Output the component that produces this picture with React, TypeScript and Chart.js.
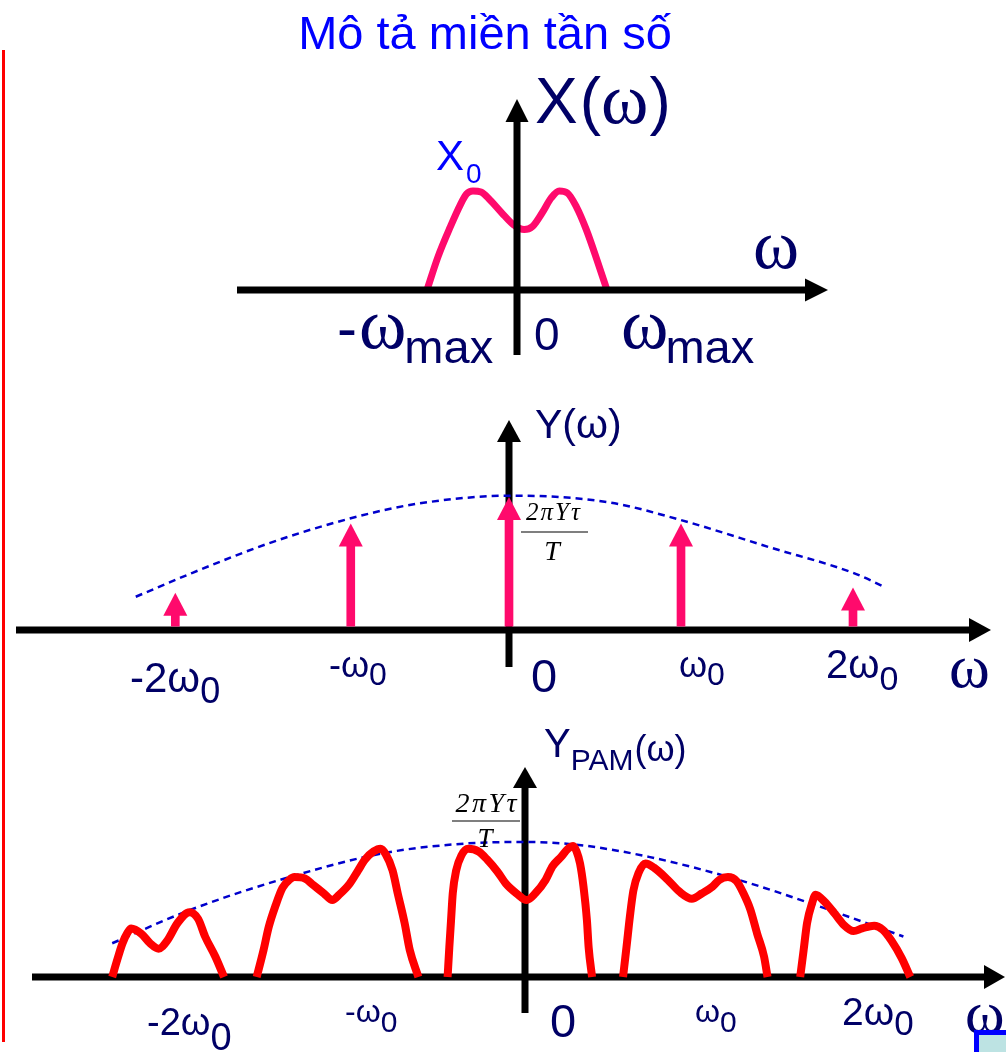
import React, { useEffect, useRef } from "react";
import { Chart, registerables } from "chart.js";

Chart.register(...registerables);

const W = 1006;
const H = 1052;

// ---------- Panel 1: X(ω), ω in units of ω_max, amplitude in units of X0 ----------
const P1_OMEGA = [-1.0, -0.88, -0.74, -0.63, -0.56, -0.49, -0.4, -0.3, -0.17, -0.04, 0.08, 0.17, 0.28, 0.38, 0.47, 0.56, 0.66, 0.77, 0.89, 1.0];
const P1_X = [0, 0.33, 0.64, 0.86, 0.97, 1.0, 0.99, 0.91, 0.78, 0.66, 0.61, 0.64, 0.78, 0.93, 1.0, 0.98, 0.84, 0.61, 0.3, 0];

// ---------- Panel 2: Y(ω), ω in units of ω0, amplitude in units of 2πYτ/T ----------
const P2_STEM_OMEGA = [-1.94, -0.92, 0, 1.0, 2.0];
const P2_STEM_Y = [0.28, 0.8, 1.0, 0.8, 0.32];
const P2_ENV_OMEGA = [-2.17, -1.84, -1.4, -0.92, -0.53, 0.02, 0.58, 0.99, 1.52, 2.0, 2.19];
const P2_ENV_Y = [0.25, 0.43, 0.65, 0.84, 0.95, 1.01, 0.96, 0.83, 0.62, 0.43, 0.32];

// ---------- Panel 3: Y_PAM(ω), ω in units of ω0, amplitude in units of 2πYτ/T ----------
const P3_SEG_A_OMEGA = [-2.4, -2.37, -2.34, -2.31, -2.29, -2.23, -2.18, -2.13, -2.08, -2.02, -1.95, -1.9, -1.86, -1.8, -1.75];
const P3_SEG_A_Y = [0, 0.13, 0.25, 0.33, 0.36, 0.32, 0.25, 0.21, 0.27, 0.4, 0.48, 0.43, 0.3, 0.15, 0];
const P3_SEG_B_OMEGA = [-1.56, -1.52, -1.49, -1.45, -1.41, -1.37, -1.34, -1.28, -1.23, -1.17, -1.12, -1.08, -1.02, -0.97, -0.93, -0.88, -0.84, -0.81, -0.77, -0.74, -0.7, -0.67, -0.62];
const P3_SEG_B_Y = [0, 0.2, 0.37, 0.53, 0.66, 0.72, 0.74, 0.73, 0.68, 0.62, 0.57, 0.61, 0.69, 0.79, 0.87, 0.93, 0.95, 0.91, 0.79, 0.62, 0.4, 0.2, 0];
const P3_SEG_C_OMEGA = [-0.45, -0.44, -0.43, -0.42, -0.4, -0.37, -0.33, -0.27, -0.22, -0.16, -0.11, -0.05, 0.01, 0.06, 0.12, 0.16, 0.21, 0.25, 0.28, 0.3, 0.32, 0.34, 0.36, 0.37, 0.39];
const P3_SEG_C_Y = [0, 0.22, 0.42, 0.62, 0.79, 0.9, 0.95, 0.93, 0.87, 0.78, 0.69, 0.62, 0.57, 0.62, 0.72, 0.82, 0.89, 0.95, 0.97, 0.93, 0.84, 0.67, 0.42, 0.22, 0];
const P3_SEG_D_OMEGA = [0.57, 0.59, 0.61, 0.63, 0.66, 0.7, 0.75, 0.83, 0.9, 0.97, 1.03, 1.09, 1.13, 1.18, 1.23, 1.27, 1.31, 1.35, 1.39, 1.41];
const P3_SEG_D_Y = [0, 0.22, 0.45, 0.64, 0.77, 0.84, 0.81, 0.72, 0.63, 0.58, 0.62, 0.67, 0.72, 0.74, 0.71, 0.62, 0.5, 0.32, 0.15, 0];
const P3_SEG_E_OMEGA = [1.6, 1.62, 1.64, 1.67, 1.69, 1.74, 1.8, 1.85, 1.91, 1.96, 2.03, 2.08, 2.13, 2.19, 2.24];
const P3_SEG_E_Y = [0, 0.2, 0.4, 0.55, 0.61, 0.56, 0.47, 0.39, 0.34, 0.36, 0.38, 0.35, 0.27, 0.14, 0];
const P3_ENV_OMEGA = [-2.4, -1.94, -1.37, -0.81, -0.33, 0, 0.3, 0.72, 1.24, 1.65, 2.2];
const P3_ENV_Y = [0.25, 0.5, 0.74, 0.92, 0.99, 1.0, 0.98, 0.89, 0.72, 0.55, 0.3];

// ---------- Texts ----------
const TITLE = "Mô tả miền tần số";
const P2_TICKS = [["-2ω", "0"], ["-ω", "0"], ["0", ""], ["ω", "0"], ["2ω", "0"]];
const P3_TICKS = [["-2ω", "0"], ["-ω", "0"], ["0", ""], ["ω", "0"], ["2ω", "0"]];
const FRACTION_NUM = "2πYτ";
const FRACTION_DEN = "T";

// ---------- Styles / layout (pixels) ----------
const NAVY = "#000066";
const BLUE = "#0000ff";
const PINK = "#ff0a6c";
const RED = "#ff0000";
const DASH_BLUE = "#0000cc";
const SANS = '"Liberation Sans", Arial, sans-serif';
const SERIF = '"Liberation Serif", "Times New Roman", serif';

const PANELS = {
  p1: { ox: 517, ux: 90, oy: 290, uy: 99, xFrom: 237, xTip: 828, yBottom: 355, yTip: 99, head: 23, half: 11.5 },
  p2: { ox: 509, ux: 172, oy: 630, uy: 133, xFrom: 16, xTip: 991, yBottom: 667, yTip: 420, head: 22, half: 12 },
  p3: { ox: 525, ux: 172, oy: 977, uy: 135, xFrom: 32, xTip: 1005, yBottom: 1013, yTip: 767, head: 21, half: 12 },
};

function scalesFor(p: any) {
  return {
    x: { type: "linear", display: false, offset: false, bounds: "data", min: -p.ox / p.ux, max: (W - p.ox) / p.ux },
    y: { type: "linear", display: false, offset: false, bounds: "data", min: (p.oy - H) / p.uy, max: p.oy / p.uy },
  };
}

function pts(xs: number[], ys: number[]) {
  return xs.map((x, i) => ({ x, y: ys[i] }));
}

function drawAxes(chart: any, key: "p1" | "p2" | "p3") {
  const p = PANELS[key];
  const n = key.slice(1);
  const xs = chart.scales["x" + n];
  const ys = chart.scales["y" + n];
  const ctx = chart.ctx;
  const y0 = ys.getPixelForValue(0);
  const x0 = xs.getPixelForValue(0);
  const lw = 7;
  ctx.save();
  ctx.fillStyle = "#000";
  ctx.fillRect(p.xFrom, y0 - lw / 2, p.xTip - p.head - p.xFrom + 1, lw);
  ctx.beginPath();
  ctx.moveTo(p.xTip, y0);
  ctx.lineTo(p.xTip - p.head, y0 - p.half);
  ctx.lineTo(p.xTip - p.head, y0 + p.half);
  ctx.closePath();
  ctx.fill();
  ctx.fillRect(x0 - lw / 2, p.yTip + p.head - 1, lw, p.yBottom - p.yTip - p.head + 1);
  ctx.beginPath();
  ctx.moveTo(x0, p.yTip);
  ctx.lineTo(x0 - p.half, p.yTip + p.head);
  ctx.lineTo(x0 + p.half, p.yTip + p.head);
  ctx.closePath();
  ctx.fill();
  ctx.restore();
}

type Part = { t: string; size: number; y: number; serif?: boolean; italic?: boolean; dx?: number };

function rich(ctx: CanvasRenderingContext2D, x: number, parts: Part[], color: string) {
  let cx = x;
  ctx.save();
  ctx.fillStyle = color;
  ctx.textAlign = "left";
  ctx.textBaseline = "alphabetic";
  for (const p of parts) {
    cx += p.dx || 0;
    ctx.font = `${p.italic ? "italic " : ""}${p.size}px ${p.serif ? SERIF : SANS}`;
    ctx.fillText(p.t, cx, p.y);
    cx += ctx.measureText(p.t).width;
  }
  ctx.restore();
}

function fraction(ctx: CanvasRenderingContext2D, cx: number, numY: number, lineY: number, x1: number, x2: number, denY: number, numSize: number, denSize: number, spacing: number) {
  ctx.save();
  ctx.fillStyle = "#000";
  ctx.textAlign = "center";
  ctx.textBaseline = "alphabetic";
  (ctx as any).letterSpacing = `${spacing}px`;
  ctx.font = `italic ${numSize}px ${SERIF}`;
  ctx.fillText(FRACTION_NUM, cx + spacing / 2, numY);
  (ctx as any).letterSpacing = "0px";
  ctx.font = `italic ${denSize}px ${SERIF}`;
  ctx.fillText(FRACTION_DEN, cx - 1, denY);
  ctx.strokeStyle = "#555";
  ctx.lineWidth = 1.6;
  ctx.beginPath();
  ctx.moveTo(x1, lineY);
  ctx.lineTo(x2, lineY);
  ctx.stroke();
  ctx.restore();
}

function drawLabels(chart: any) {
  const ctx: CanvasRenderingContext2D = chart.ctx;
  ctx.save();
  ctx.fillStyle = BLUE;
  ctx.font = `47px ${SANS}`;
  ctx.textAlign = "center";
  ctx.textBaseline = "alphabetic";
  ctx.fillText(TITLE, 485, 49);
  ctx.restore();

  // ----- panel 1 -----
  rich(ctx, 535, [
    { t: "X", size: 64, y: 123 },
    { t: "(", size: 64, y: 123, dx: 2 },
    { t: "ω", size: 72, y: 123, serif: true },
    { t: ")", size: 64, y: 123, dx: 1 },
  ], NAVY);
  rich(ctx, 436, [
    { t: "X", size: 42, y: 170 },
    { t: "0", size: 28, y: 183, dx: 2 },
  ], BLUE);
  rich(ctx, 753, [{ t: "ω", size: 70, y: 268, serif: true }], NAVY);
  rich(ctx, 337, [
    { t: "-", size: 60, y: 348 },
    { t: "ω", size: 72, y: 348, serif: true, dx: 2 },
    { t: "max", size: 47, y: 363, dx: -2 },
  ], NAVY);
  rich(ctx, 534, [{ t: "0", size: 46, y: 350 }], NAVY);
  rich(ctx, 621, [
    { t: "ω", size: 72, y: 348, serif: true },
    { t: "max", size: 47, y: 363, dx: -3 },
  ], NAVY);

  // ----- panel 2 -----
  rich(ctx, 535, [{ t: "Y(ω)", size: 41, y: 438 }], NAVY);
  const p2pos = [
    { x: 130, s: 42, y: 692, ss: 36, sy: 703 },
    { x: 329, s: 36, y: 677, ss: 32, sy: 685 },
    { x: 531, s: 47, y: 692, ss: 0, sy: 0 },
    { x: 679, s: 36, y: 677, ss: 32, sy: 685 },
    { x: 826, s: 40, y: 678, ss: 34, sy: 690 },
  ];
  P2_TICKS.forEach((tk, i) => {
    const q = p2pos[i];
    const parts: Part[] = [{ t: tk[0], size: q.s, y: q.y }];
    if (tk[1]) parts.push({ t: tk[1], size: q.ss, y: q.sy });
    rich(ctx, q.x, parts, NAVY);
  });
  rich(ctx, 949, [{ t: "ω", size: 62, y: 687, serif: true }], NAVY);
  fraction(ctx, 553, 520, 532, 521, 588, 560, 25, 28, 2);

  // ----- panel 3 -----
  rich(ctx, 544, [
    { t: "Y", size: 40, y: 757 },
    { t: "PAM", size: 30, y: 770 },
    { t: "(ω)", size: 36, y: 761, dx: 1 },
  ], NAVY);
  const p3pos = [
    { x: 147, s: 38, y: 1035, ss: 38, sy: 1050 },
    { x: 345, s: 32, y: 1022, ss: 30, sy: 1032 },
    { x: 550, s: 47, y: 1037, ss: 0, sy: 0 },
    { x: 695, s: 32, y: 1022, ss: 30, sy: 1032 },
    { x: 842, s: 39, y: 1025, ss: 35, sy: 1035 },
  ];
  P3_TICKS.forEach((tk, i) => {
    const q = p3pos[i];
    const parts: Part[] = [{ t: tk[0], size: q.s, y: q.y }];
    if (tk[1]) parts.push({ t: tk[1], size: q.ss, y: q.sy });
    rich(ctx, q.x, parts, NAVY);
  });
  rich(ctx, 965, [{ t: "ω", size: 60, y: 1032, serif: true }], NAVY);
  fraction(ctx, 486, 812, 821, 452, 520, 847, 28, 27, 2.5);
}

const diagramPlugin = {
  id: "diagram",
  beforeDatasetsDraw(chart: any) {
    const ctx = chart.ctx;
    ctx.save();
    ctx.strokeStyle = RED;
    ctx.lineWidth = 3;
    ctx.beginPath();
    ctx.moveTo(3.5, 50);
    ctx.lineTo(3.5, 1042);
    ctx.stroke();
    ctx.restore();
    drawAxes(chart, "p2");
    drawAxes(chart, "p3");
  },
  beforeDatasetDraw(chart: any, args: any) {
    const ds = chart.data.datasets[args.index];
    if (ds.type !== "bar") return;
    const ctx = chart.ctx;
    ctx.save();
    ctx.beginPath();
    const head = 23;
    for (const el of args.meta.data) {
      ctx.rect(el.x - 10, el.y + head - 2, 20, el.base - 3.5 - (el.y + head - 2));
    }
    ctx.clip();
  },
  afterDatasetDraw(chart: any, args: any) {
    const ds = chart.data.datasets[args.index];
    if (ds.type !== "bar") return;
    const ctx = chart.ctx;
    ctx.restore();
    ctx.save();
    ctx.fillStyle = PINK;
    const head = 23;
    const half = 12;
    for (const el of args.meta.data) {
      ctx.beginPath();
      ctx.moveTo(el.x, el.y);
      ctx.lineTo(el.x - half, el.y + head);
      ctx.lineTo(el.x + half, el.y + head);
      ctx.closePath();
      ctx.fill();
    }
    ctx.restore();
  },
  afterDatasetsDraw(chart: any) {
    drawAxes(chart, "p1");
    drawLabels(chart);
    const ctx = chart.ctx;
    ctx.save();
    ctx.fillStyle = "#bde3e3";
    ctx.fillRect(976, 1032, 40, 30);
    ctx.strokeStyle = BLUE;
    ctx.lineWidth = 5;
    ctx.strokeRect(976.5, 1032.5, 40, 30);
    ctx.restore();
  },
};

export default function App() {
  const ref = useRef<HTMLCanvasElement | null>(null);

  useEffect(() => {
    if (!ref.current) return;
    const s1 = scalesFor(PANELS.p1);
    const s2 = scalesFor(PANELS.p2);
    const s3 = scalesFor(PANELS.p3);
    const curve = (data: any, x: string, y: string, color: string, width: number, dash?: number[]) => ({
      type: "line",
      data,
      xAxisID: x,
      yAxisID: y,
      borderColor: color,
      borderWidth: width,
      borderDash: dash || [],
      borderCapStyle: "butt",
      borderJoinStyle: "round",
      pointRadius: 0,
      fill: false,
      cubicInterpolationMode: "monotone",
    });
    const chart = new Chart(ref.current, {
      type: "line",
      data: {
        datasets: [
          curve(pts(P1_OMEGA, P1_X), "x1", "y1", PINK, 7),
          {
            type: "bar",
            data: pts(P2_STEM_OMEGA, P2_STEM_Y),
            xAxisID: "x2",
            yAxisID: "y2",
            backgroundColor: PINK,
            borderWidth: 0,
            barThickness: 8,
          },
          curve(pts(P2_ENV_OMEGA, P2_ENV_Y), "x2", "y2", DASH_BLUE, 2.5, [7, 5]),
          curve(pts(P3_SEG_A_OMEGA, P3_SEG_A_Y), "x3", "y3", RED, 8),
          curve(pts(P3_SEG_B_OMEGA, P3_SEG_B_Y), "x3", "y3", RED, 8),
          curve(pts(P3_SEG_C_OMEGA, P3_SEG_C_Y), "x3", "y3", RED, 8),
          curve(pts(P3_SEG_D_OMEGA, P3_SEG_D_Y), "x3", "y3", RED, 8),
          curve(pts(P3_SEG_E_OMEGA, P3_SEG_E_Y), "x3", "y3", RED, 8),
          curve(pts(P3_ENV_OMEGA, P3_ENV_Y), "x3", "y3", DASH_BLUE, 2.5, [7, 5]),
        ] as any,
      },
      options: {
        responsive: false,
        animation: false,
        devicePixelRatio: 1,
        layout: { padding: 0 },
        events: [],
        plugins: { legend: { display: false }, tooltip: { enabled: false }, title: { display: false } },
        scales: {
          x1: s1.x, y1: s1.y,
          x2: s2.x, y2: s2.y,
          x3: s3.x, y3: s3.y,
        } as any,
      },
      plugins: [diagramPlugin as any],
    });
    return () => chart.destroy();
  }, []);

  return (
    <div style={{ position: "absolute", left: 0, top: 0, width: W, height: H, background: "#fff" }}>
      <canvas ref={ref} width={W} height={H} style={{ display: "block", width: W, height: H }} />
    </div>
  );
}
